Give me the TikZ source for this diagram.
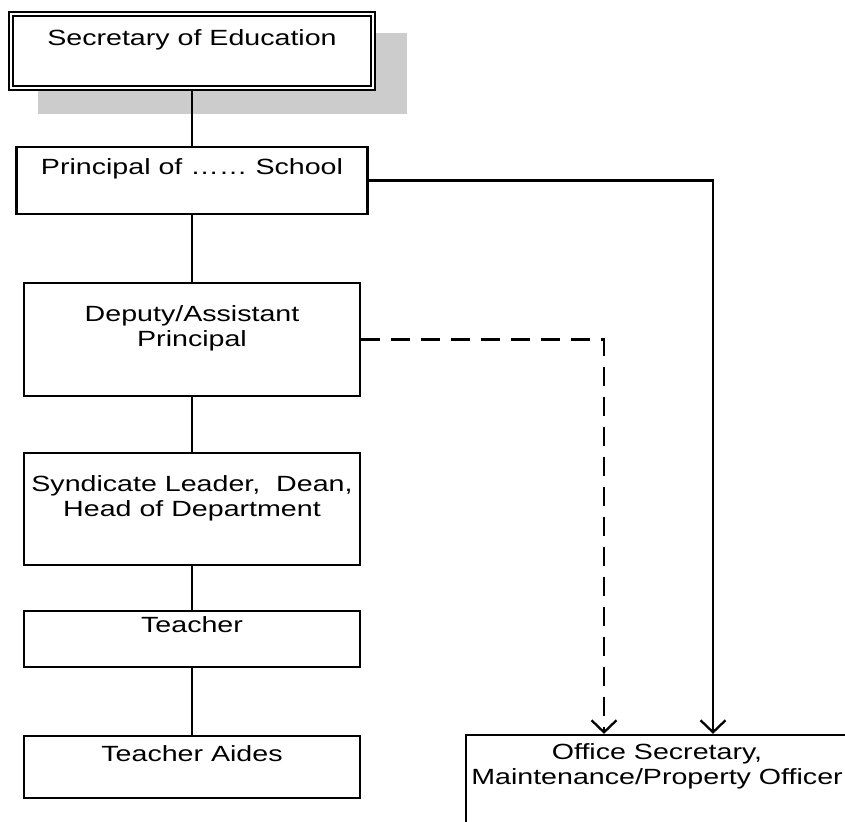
\documentclass[tikz,border=0pt]{standalone}
\usepackage{fontspec}
\setmainfont{Liberation Sans}[FakeStretch=1.3]
\usetikzlibrary{arrows.meta}
\tikzset{
	box/.style={draw, line width=2.3pt, minimum width=336pt, inner sep=0pt},
	txt/.style={font=\fontsize{22}{25}\selectfont, align=center, inner sep=0pt, anchor=base},
	link/.style={line width=2.3pt},
	report/.style={line width=2.3pt, -{Straight Barb[length=12pt, width=25pt]}},
}
\begin{document}
\begin{tikzpicture}[x=1pt, y=-1pt]
	\useasboundingbox (0,0) rectangle (845,821);
	% shadow of the top box
	\fill [black!20] (38,33) rectangle (407,114);
	\node [box, double, line width=1.5pt, double distance=2.6pt, fill=white, minimum width=362pt, minimum height=74pt] (sec) at (192,51) {};
	\node [box, minimum width=351pt, minimum height=67pt] (prin) at (192,180.5) {};
	\node [box, minimum height=113pt] (dep) at (192,339.5) {};
	\node [box, minimum height=112pt] (synd) at (192,509) {};
	\node [box, minimum height=56pt] (teach) at (192,639) {};
	\node [box, minimum height=62pt] (aides) at (192,767) {};
	\node [box, minimum width=414pt, minimum height=125pt] (office) at (673,797.5) {};

	% baseline of the last line
	\node [txt] (sectxt) at (192,46) {Secretary of Education};
	\node [txt] (printxt) at (192,175) {Principal of \dots\dots{} School};
	\node [txt] (deptxt) at (192,346) {Deputy/Assistant\\Principal};
	\node [txt] (syndtxt) at (192,516) {Syndicate Leader,~ Dean,\\Head of Department};
	\node [txt] (teachtxt) at (192,632) {Teacher};
	\node [txt] (aidestxt) at (192,761) {Teacher Aides};
	\node [txt] (officetxt) at (657,784) {Office Secretary,\\Maintenance/Property Officer};

	% line of authority
	\draw [link] (sec.south) -- (prin.north);
	\draw [link] (prin.south) -- (dep.north);
	\draw [link] (dep.south) -- (synd.north);
	\draw [link] (synd.south) -- (teach.north);
	\draw [link] (teach.south) -- (aides.north);

	% office staff
	\coordinate (solidin) at (713,0);
	\coordinate (dashin) at (604,0);
	\draw [report] (prin.east) -| (solidin |- office.north);
	\draw [report, dash pattern=on 19pt off 11pt] (dep.east) -| (dashin |- office.north);
\end{tikzpicture}
\end{document}
